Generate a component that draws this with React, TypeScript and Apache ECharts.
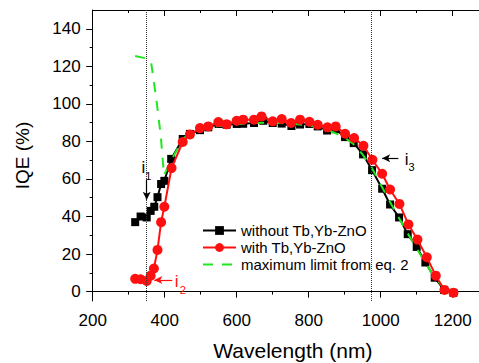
import React, { useEffect, useRef } from "react";
import * as echarts from "echarts";

const blackX = [318, 333, 350, 361, 371, 380, 390, 399, 418, 450, 470, 498, 521, 550, 572, 600, 618, 648, 674, 700, 725, 752, 776, 802, 825, 851, 875, 901, 925, 951, 976, 1004, 1026, 1051, 1075, 1100, 1124, 1150, 1176, 1202];
const blackY = [37, 40, 39.5, 43, 45.2, 50.3, 57.3, 59, 70.7, 81.3, 84, 86, 87.5, 89.3, 88.9, 89.3, 89.4, 89.8, 91, 89.8, 89.5, 88.2, 89, 89.3, 88, 85.8, 86.5, 82.3, 79.1, 73.1, 64.7, 54.8, 46.4, 39.5, 30.6, 23.8, 15.5, 7.4, 0.9, -0.6];

const redX = [318, 333, 350, 361, 370, 380, 390, 399, 419, 450, 470, 498, 521, 549, 572, 600, 618, 648, 669, 700, 725, 751, 776, 802, 825, 852, 875, 901, 926, 952, 977, 1004, 1026, 1052, 1077, 1102, 1128, 1153, 1177, 1202];
const redY = [6.8, 6.6, 5.7, 8.5, 12.3, 22.2, 37, 45.2, 65.8, 79.7, 83.7, 87.1, 88, 90.3, 89.1, 91, 91.6, 91.6, 93.3, 90.7, 91.9, 89.8, 91.6, 90.5, 88.9, 87.5, 88, 84.1, 81.8, 77.7, 70.2, 62.8, 54.4, 46.7, 35.8, 27.7, 18.3, 8.5, 0.9, -0.6];

const greenX = [318, 354, 362, 378, 389, 398, 419, 449, 470, 500, 550, 600, 650, 700, 750, 800, 850, 900, 925, 950, 975, 1000, 1025, 1050, 1075, 1100, 1125, 1150, 1175, 1192];
const greenY = [125.5, 124, 122.5, 100.5, 83, 62, 70.2, 81, 84.5, 86.5, 88.2, 89.2, 89.8, 90, 89.5, 88.6, 86.5, 82, 78.5, 73, 66, 57, 48, 39.5, 31, 23, 15, 7.5, 2, 0.3];

const xLabels = [200, 400, 600, 800, 1000, 1200];
const xMinor = [300, 500, 700, 900, 1100];
const yLabels = [0, 20, 40, 60, 80, 100, 120, 140];
const yMinor = [10, 30, 50, 70, 90, 110, 130];
const vLines = [350, 975];

const names = ["without Tb,Yb-ZnO", "with Tb,Yb-ZnO", "maximum limit from eq. 2"];

const FONT = "Liberation Sans, Arial, sans-serif";
const X_MIN = 200;
const X_MAX = 1273;
const Y_MIN = -5;
const Y_MAX = 150;

const zip = (xs: number[], ys: number[]) => xs.map((x, i) => [x, ys[i]]);

function textPoint(coord: number[], text: string, color: string, size: number) {
  return {
    coord,
    value: text,
    symbol: "circle",
    symbolSize: 0,
    label: {
      show: true,
      position: "inside",
      formatter: text,
      color,
      fontSize: size,
      fontFamily: FONT,
    },
  };
}

function arrow(from: number[], to: number[], color: string) {
  return [
    { coord: from, lineStyle: { color, width: 1.2, type: "solid" } },
    { coord: to },
  ];
}

export default function App() {
  const ref = useRef<HTMLDivElement>(null);
  useEffect(() => {
    if (!ref.current) return;
    const chart = echarts.init(ref.current, undefined, { renderer: "svg" });
    const axisLine = { show: true, lineStyle: { color: "#000", width: 1 } };
    const xBase = { type: "value", min: X_MIN, max: X_MAX, splitLine: { show: false } };
    const yBase = { type: "value", min: Y_MIN, max: Y_MAX, splitLine: { show: false } };
    const plain = (v: number) => String(v);
    chart.setOption({
      animation: false,
      backgroundColor: "#fff",
      grid: { left: 92.7, right: 0, top: 10, bottom: 62, containLabel: false, outerBoundsMode: "none" },
      legend: {
        orient: "vertical",
        left: 197,
        top: 218,
        itemWidth: 33,
        itemHeight: 11,
        itemGap: 2,
        data: [names[0], names[1], { name: names[2], itemStyle: { opacity: 0 } }],
        textStyle: { fontSize: 15, fontFamily: FONT, color: "#000" },
      },
      xAxis: [
        {
          ...xBase,
          position: "bottom",
          axisLine,
          axisTick: { show: true, inside: false, length: 6, customValues: xLabels, lineStyle: { color: "#000" } },
          axisLabel: { show: true, customValues: xLabels, formatter: plain, fontSize: 17, fontFamily: FONT, color: "#000", margin: 11 },
          name: "Wavelength (nm)",
          nameLocation: "middle",
          nameGap: 39,
          nameTextStyle: { fontSize: 21, fontFamily: FONT, color: "#000", padding: [0, 0, 0, 14] },
        },
        {
          ...xBase,
          position: "bottom",
          axisLine: { show: false },
          axisTick: { show: true, inside: false, length: 3, customValues: xMinor, lineStyle: { color: "#000" } },
          axisLabel: { show: false },
        },
        {
          ...xBase,
          position: "top",
          axisLine,
          axisTick: { show: true, inside: true, length: 6, customValues: xLabels, lineStyle: { color: "#000" } },
          axisLabel: { show: false },
        },
        {
          ...xBase,
          position: "top",
          axisLine: { show: false },
          axisTick: { show: true, inside: true, length: 3, customValues: xMinor, lineStyle: { color: "#000" } },
          axisLabel: { show: false },
        },
      ],
      yAxis: [
        {
          ...yBase,
          position: "left",
          axisLine,
          axisTick: { show: true, inside: false, length: 6.5, customValues: yLabels, lineStyle: { color: "#000" } },
          axisLabel: { show: true, customValues: yLabels, formatter: plain, fontSize: 17, fontFamily: FONT, color: "#000", margin: 12 },
          name: "IQE (%)",
          nameLocation: "middle",
          nameGap: 61,
          nameTextStyle: { fontSize: 19, fontFamily: FONT, color: "#000" },
        },
        {
          ...yBase,
          position: "left",
          axisLine: { show: false },
          axisTick: { show: true, inside: false, length: 3, customValues: yMinor, lineStyle: { color: "#000" } },
          axisLabel: { show: false },
        },
      ],
      series: [
        {
          name: names[0],
          type: "line",
          z: 2,
          data: zip(blackX, blackY),
          symbol: "rect",
          symbolSize: 8,
          itemStyle: { color: "#000" },
          lineStyle: { color: "#000", width: 2 },
          markLine: {
            silent: true,
            symbol: "none",
            label: { show: false },
            lineStyle: { color: "#333", width: 1, type: "dotted" },
            data: vLines.map((v) => ({ xAxis: v })),
          },
          markPoint: {
            silent: true,
            data: [
              textPoint([340.5, 66], "i", "#000", 17),
              textPoint([354.5, 61.4], "1", "#000", 11),
              textPoint([1072, 70.2], "i", "#000", 17),
              textPoint([1086, 66.5], "3", "#000", 11),
            ],
          },
        },
        {
          name: names[2],
          type: "line",
          z: 3,
          data: zip(greenX, greenY),
          symbol: "none",
          itemStyle: { color: "#1fe81f" },
          lineStyle: { color: "#1fe81f", width: 2, type: [10, 9] },
        },
        {
          name: names[1],
          type: "line",
          z: 4,
          data: zip(redX, redY),
          symbol: "circle",
          symbolSize: 10,
          itemStyle: { color: "#ff1010" },
          lineStyle: { color: "#ff1010", width: 2 },
          markLine: {
            silent: true,
            symbol: ["none", "arrow"],
            symbolSize: [6, 8],
            label: { show: false },
            data: [
              arrow([350, 59.6], [350, 48.9], "#000"),
              arrow([421, 6.2], [371, 6.2], "#ff1010"),
              arrow([1049, 71.1], [1004, 71.1], "#000"),
            ],
          },
          markPoint: {
            silent: true,
            data: [
              textPoint([433, 5.5], "i", "#ff1010", 17),
              textPoint([450, 0.9], "2", "#ff1010", 11),
            ],
          },
        },
      ],
    });
    return () => chart.dispose();
  }, []);
  return <div ref={ref} style={{ width: 479, height: 363, position: "absolute", left: 0, top: 0 }} />;
}
